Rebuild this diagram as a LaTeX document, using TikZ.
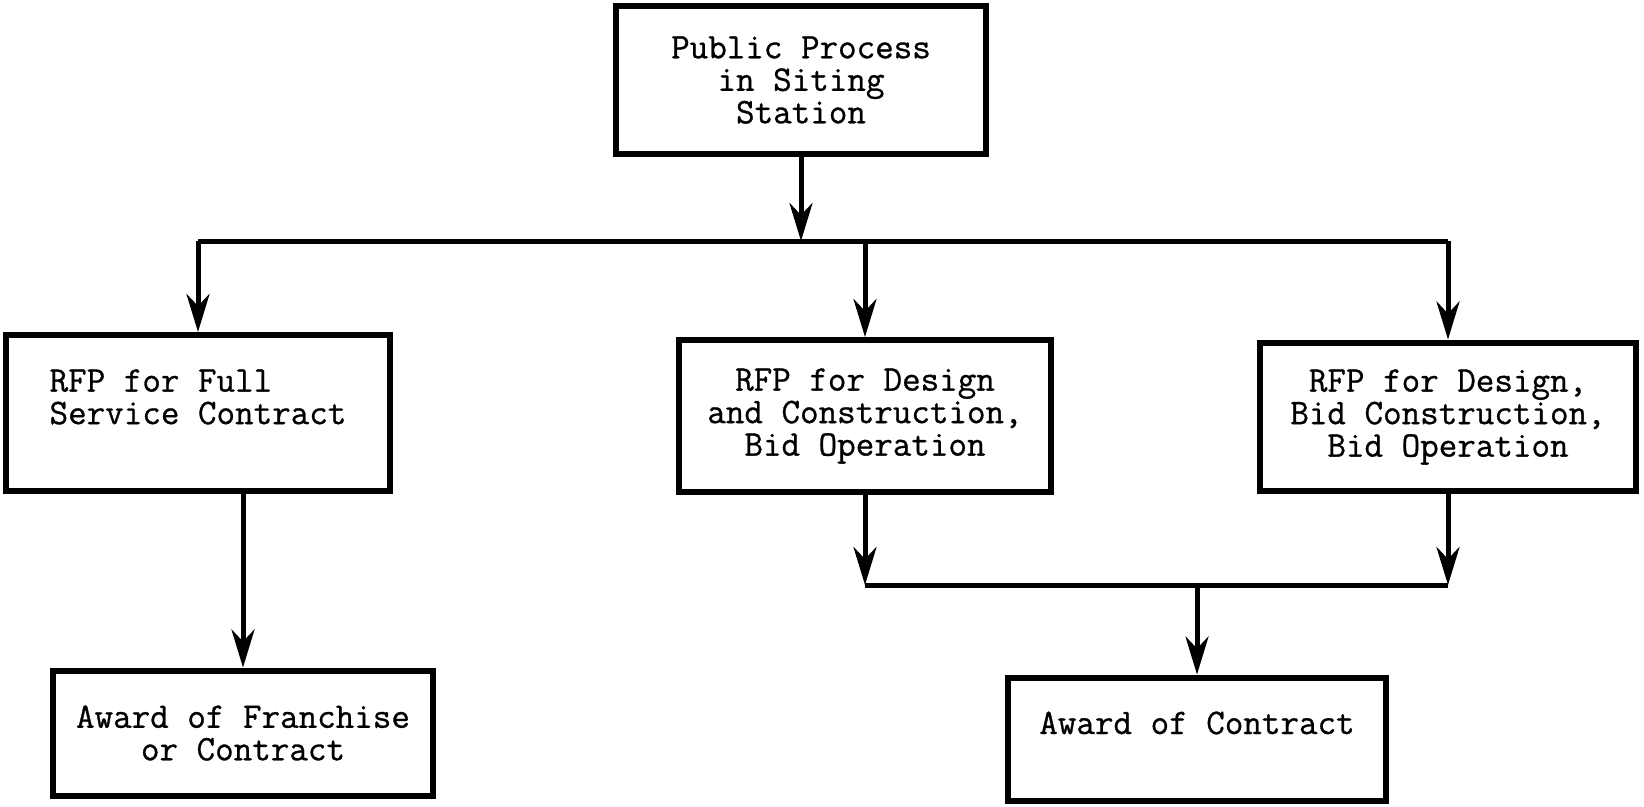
\documentclass[tikz,border=0pt]{standalone}
\usepackage{fontspec}
\usepackage{tikz}
\usetikzlibrary{arrows.meta}
\setmonofont[FakeBold=0.8]{Latin Modern Mono}

\begin{document}
\begin{tikzpicture}[x=0.02cm, y=-0.02cm,
  box/.style={draw=black, line width=0.12cm, inner sep=0pt,
    font=\ttfamily\fontsize{20.5}{18.5}\selectfont, align=center},
  wire/.style={draw=black, line width=0.1cm},
  arr/.style={wire, -{Stealth[length=0.76cm, width=0.46cm, inset=0.24cm]}}]
\useasboundingbox (0,0) rectangle (1644,806);
\node[box, minimum width=7.40cm, minimum height=2.96cm] (pub) at (801,80) {Public Process\\in Siting\\Station};
\node[box, minimum width=7.68cm, minimum height=3.12cm, align=left] (rfpfull) at (198,413) {RFP for Full\\Service Contract\\~};
\node[box, minimum width=7.46cm, minimum height=3.04cm] (rfpdc) at (865,416) {RFP for Design\\and Construction,\\Bid Operation};
\node[box, minimum width=7.54cm, minimum height=2.98cm] (rfpbb) at (1448,417) {RFP for Design,\\Bid Construction,\\Bid Operation};
\node[box, minimum width=7.62cm, minimum height=2.50cm] (award1) at (243,733) {Award of Franchise\\or Contract};
\node[box, minimum width=7.58cm, minimum height=2.46cm] (award2) at (1197,739) {Award of Contract\\~};
\coordinate (bus) at (801,241);
\coordinate (join) at (1197,585);
\draw[arr] (pub.south) -- (pub.south |- bus);
\draw[wire] (rfpfull.north |- bus) -- (rfpbb.north |- bus);
\draw[arr] (rfpfull.north |- bus) -- (rfpfull.north);
\draw[arr] (rfpdc.north |- bus) -- (rfpdc.north);
\draw[arr] (rfpbb.north |- bus) -- (rfpbb.north);
\draw[arr] (award1.north |- rfpfull.south) -- (award1.north);
\draw[arr] (rfpdc.south) -- (rfpdc.south |- join);
\draw[arr] (rfpbb.south) -- (rfpbb.south |- join);
\draw[wire] (rfpdc.south |- join) -- (rfpbb.south |- join);
\draw[arr] (join) -- (award2.north);
\end{tikzpicture}
\end{document}
